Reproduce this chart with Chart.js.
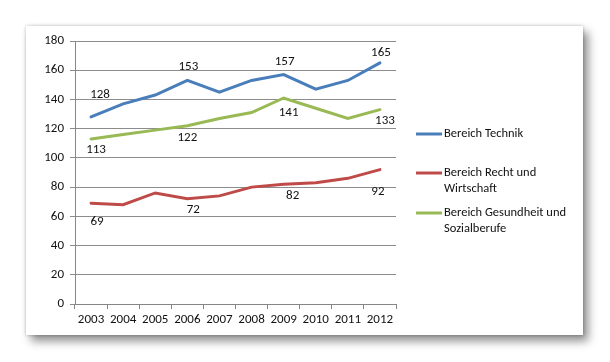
<!DOCTYPE html>
<html>
<head>
<meta charset="utf-8">
<script src="https://cdn.jsdelivr.net/npm/chart.js@4.4.1/dist/chart.umd.min.js"></script>
<style>
  html, body { margin: 0; padding: 0; background: #fff; }
  #frame {
    position: absolute; left: 26px; top: 26px; width: 557px; height: 309px;
    background: #fff;
    box-shadow: 0 0 3px rgba(0,0,0,0.25), 5px 6px 9px rgba(0,0,0,0.45);
  }
  canvas { display: block; }
</style>
</head>
<body>
<div id="frame"><canvas id="lineChart" width="557" height="309"></canvas></div>
<script>
// years on x axis
var years = ["2003", "2004", "2005", "2006", "2007", "2008", "2009", "2010", "2011", "2012"];
var seriesNames = ["Bereich Technik", "Bereich Recht und Wirtschaft", "Bereich Gesundheit und Sozialberufe"];
var technik    = [128, 137, 143, 153, 145, 153, 157, 147, 153, 165];
var recht      = [69, 68, 76, 72, 74, 80, 82, 83, 86, 92];
var gesundheit = [113, 116, 119, 122, 127, 131, 141, 134, 127, 133];
var yTicks = [0, 20, 40, 60, 80, 100, 120, 140, 160, 180];
var labelled = [0, 3, 6, 9]; // years that carry a value label

var FONT = "'Carlito', 'Liberation Sans', sans-serif";
var colors = ["#4a7ebb", "#be4b48", "#98b954"];

// label offsets from point (px), per dataset
var labelOffsets = [
  [[9, -22], [1, -14], [1, -13], [1, -10]],
  [[6, 19], [6, 11], [9, 12], [-2, 22]],
  [[5, 11], [0, 12], [5, 15], [5, 11]]
];

var valueLabels = {
  id: 'valueLabels',
  afterDatasetsDraw: function(chart) {
    var ctx = chart.ctx;
    ctx.save();
    ctx.font = "13px " + FONT;
    ctx.fillStyle = "#111";
    ctx.textAlign = "center";
    ctx.textBaseline = "middle";
    chart.data.datasets.forEach(function(ds, di) {
      var meta = chart.getDatasetMeta(di);
      labelled.forEach(function(idx, k) {
        var pt = meta.data[idx];
        var off = labelOffsets[di][k];
        ctx.fillText(String(ds.data[idx]), pt.x + off[0], pt.y + off[1]);
      });
    });
    ctx.restore();
  }
};

// legend on the right, wrapped like the original
var sideLegend = {
  id: 'sideLegend',
  afterDraw: function(chart) {
    var ctx = chart.ctx;
    var rows = [
      { lines: ["Bereich Technik"], y: 108 },
      { lines: ["Bereich Recht und", "Wirtschaft"], y: 147 },
      { lines: ["Bereich Gesundheit und", "Sozialberufe"], y: 187 }
    ];
    ctx.save();
    ctx.font = "12.5px " + FONT;
    ctx.textBaseline = "middle";
    ctx.fillStyle = "#111";
    rows.forEach(function(r, i) {
      ctx.strokeStyle = chart.data.datasets[i].borderColor;
      ctx.lineWidth = 3;
      ctx.beginPath();
      ctx.moveTo(390, r.y);
      ctx.lineTo(416, r.y);
      ctx.stroke();
      r.lines.forEach(function(t, j) {
        ctx.fillText(t, 418, r.y + j * 16.3);
      });
    });
    ctx.restore();
  }
};

new Chart(document.getElementById("lineChart"), {
  type: 'line',
  data: {
    labels: years,
    datasets: [
      { label: seriesNames[0], data: technik, borderColor: colors[0] },
      { label: seriesNames[1], data: recht, borderColor: colors[1] },
      { label: seriesNames[2], data: gesundheit, borderColor: colors[2] }
    ]
  },
  options: {
    responsive: false,
    animation: false,
    layout: { padding: { left: 0, right: 187, top: 15, bottom: 0 } },
    elements: {
      line: { borderWidth: 3, tension: 0, fill: false, borderCapStyle: 'round' },
      point: { radius: 0, hoverRadius: 0 }
    },
    plugins: {
      legend: { display: false },
      tooltip: { enabled: false }
    },
    scales: {
      x: {
        offset: true,
        grid: { offset: true, drawOnChartArea: false, drawTicks: true, tickLength: 5, color: "#868686" },
        border: { color: "#868686", width: 1 },
        ticks: { color: "#111", font: { family: FONT, size: 13 }, padding: 3, maxRotation: 0, autoSkip: false },
        afterFit: function(s) { s.height = 31; }
      },
      y: {
        min: 0, max: 180,
        afterBuildTicks: function(s) { s.ticks = yTicks.map(function(v) { return { value: v }; }); },
        grid: { color: "#8c8c8c", tickLength: 5, lineWidth: 1 },
        border: { color: "#868686", width: 1 },
        ticks: { color: "#111", font: { family: FONT, size: 13 }, padding: 6 },
        afterFit: function(s) { s.width = 49; }
      }
    }
  },
  plugins: [valueLabels, sideLegend]
});
</script>
</body>
</html>
